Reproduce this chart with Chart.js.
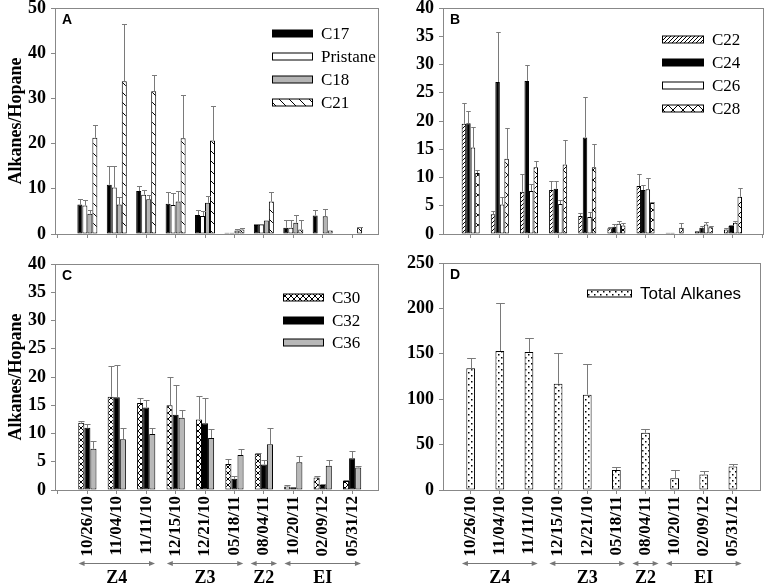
<!DOCTYPE html>
<html>
<head>
<meta charset="utf-8">
<script src="https://cdn.jsdelivr.net/npm/chart.js@4.4.1/dist/chart.umd.min.js"></script>
<style>
  html, body { margin: 0; padding: 0; background: #fff; }
  #wrap { position: relative; width: 767px; height: 585px; }
  canvas { position: absolute; }
</style>
</head>
<body>
<div id="wrap">
  <canvas id="cA" width="383" height="245" style="left:0;top:0"></canvas>
  <canvas id="cB" width="384" height="245" style="left:383px;top:0"></canvas>
  <canvas id="cC" width="383" height="340" style="left:0;top:245px"></canvas>
  <canvas id="cD" width="384" height="340" style="left:383px;top:245px"></canvas>
</div>
<script>
// sampling dates + zones
const dates = ['10/26/10','11/04/10','11/11/10','12/15/10','12/21/10','05/18/11','08/04/11','10/20/11','02/09/12','05/31/12'];
const zones = ['Z4','Z3','Z2','EI'];
const zoneFirst = [0, 3, 6, 7];
const zoneLast = [2, 5, 6, 9];

// A: short chain
const c17 = [6.5, 10.9, 9.5, 6.7, 4.2, 0.3, 2.0, 1.4, 4.1, 0];
const c17Sd = [1.3, 4.2, 1.1, 2.6, 1.0, 0, 0.3, 1.8, 1.2, 0];
const pristane = [6.3, 10.3, 8.7, 6.4, 4.0, 0.3, 2.1, 1.4, 0, 0];
const pristaneSd = [1.3, 4.8, 1.1, 2.6, 1.0, 0, 0.2, 1.8, 0, 0];
const c18 = [4.5, 6.5, 7.7, 7.2, 6.9, 0.8, 3.0, 2.5, 3.9, 0];
const c18Sd = [0.7, 1.6, 0.9, 2.4, 1.6, 0.2, 0, 1.8, 1.7, 0];
const c21 = [21.3, 33.8, 31.6, 21.2, 20.7, 1.0, 7.2, 1.0, 0.8, 1.5];
const c21Sd = [2.9, 12.6, 3.6, 9.6, 7.6, 0.3, 2.2, 2.2, 0, 0.1];

// B: mid chain
const c22 = [19.5, 3.5, 7.5, 7.8, 3.2, 1.0, 8.5, 0.2, 0.5, 0.8];
const c22Sd = [3.6, 0.6, 3.2, 1.6, 0.6, 0.2, 2.1, 0, 0.1, 0.2];
const c24 = [19.6, 26.9, 27.1, 8.0, 17.1, 1.3, 7.8, 0.2, 1.1, 1.4];
const c24Sd = [2.2, 8.8, 2.8, 1.4, 7.1, 0.5, 0.9, 0, 0.3, 0.2];
const c26 = [15.3, 5.2, 7.6, 5.3, 3.0, 1.8, 7.9, 0.1, 1.7, 2.0];
const c26Sd = [3.7, 1.4, 1.3, 0.8, 0.9, 0.5, 2.1, 0, 0.4, 0.3];
const c28 = [10.8, 13.3, 11.8, 12.3, 11.8, 1.5, 5.5, 1.1, 1.2, 6.6];
const c28Sd = [0.5, 5.4, 1.1, 4.4, 4.1, 0.4, 0.1, 0.9, 0.3, 1.5];

// C: long chain
const c30 = [11.9, 16.5, 15.4, 15.0, 12.5, 4.6, 6.4, 0.6, 2.2, 1.6];
const c30Sd = [0.4, 5.5, 0.9, 5.0, 4.2, 0.9, 0.1, 0.2, 0.3, 0.1];
const c32 = [11.0, 16.4, 14.6, 13.3, 11.8, 2.0, 4.5, 0.5, 0.9, 5.6];
const c32Sd = [0.7, 5.8, 1.4, 5.3, 4.4, 0.4, 0.8, 0, 0.1, 1.3];
const c36 = [7.3, 9.0, 9.9, 12.8, 9.2, 6.2, 8.1, 4.9, 4.3, 4.0];
const c36Sd = [1.4, 2.0, 1.1, 1.4, 1.6, 1.1, 2.9, 1.1, 1.0, 0.2];

// D: total
const total = [134, 153, 152, 117, 105, 22, 63, 13, 17, 26];
const totalSd = [11, 53, 15, 34, 34, 3, 4, 9, 4, 3];

const SERIF = "'Liberation Serif', 'Times New Roman', serif";
const SANS = "'Liberation Sans', Arial, sans-serif";

// dates sit at x = 1..10 on a numeric index axis, so the gaps at the frame ends can differ
const toXY = a => a.map((v, i) => ({ x: i + 1, y: v }));

function makePattern(kind) {
  const c = document.createElement('canvas');
  const s = { back: 10, fwd: 4, zig: 10, cross: 6, dots: 6 }[kind];
  c.width = s; c.height = s;
  const g = c.getContext('2d');
  g.fillStyle = '#fff'; g.fillRect(0, 0, s, s);
  g.strokeStyle = '#000'; g.fillStyle = '#000'; g.lineWidth = 1;
  g.beginPath();
  if (kind === 'back') { g.moveTo(0, 0); g.lineTo(s, s); }
  if (kind === 'fwd') { g.moveTo(-1, s + 1); g.lineTo(s + 1, -1); g.moveTo(-1, 1); g.lineTo(1, -1); g.moveTo(s - 1, s + 1); g.lineTo(s + 1, s - 1); }
  if (kind === 'zig' || kind === 'cross') { g.moveTo(0, 0); g.lineTo(s, s); g.moveTo(s, 0); g.lineTo(0, s); }
  g.stroke();
  if (kind === 'dots') { g.fillRect(1, 1, 1.5, 1.5); g.fillRect(4, 4, 1.5, 1.5); }
  return g.createPattern(c, 'repeat');
}
const pat = {
  back: makePattern('back'), fwd: makePattern('fwd'), zig: makePattern('zig'),
  cross: makePattern('cross'), dots: makePattern('dots')
};

const errorBars = {
  id: 'errorBars',
  afterDatasetsDraw(chart) {
    const ctx = chart.ctx, y = chart.scales.y;
    ctx.save();
    ctx.strokeStyle = '#7a7a7a'; ctx.lineWidth = 1;
    chart.data.datasets.forEach((ds, di) => {
      const meta = chart.getDatasetMeta(di);
      meta.data.forEach((bar, i) => {
        const v = ds.data[i].y, e = ds.errs[i];
        if (v == null || !e) return;
        const top = Math.round(y.getPixelForValue(v + e)) + 0.5;
        const x = Math.round(bar.x) + 0.5, hw = bar.width / 2;
        ctx.beginPath();
        ctx.moveTo(x, bar.y); ctx.lineTo(x, top);
        ctx.moveTo(x - hw, top); ctx.lineTo(x + hw, top);
        ctx.stroke();
      });
    });
    ctx.restore();
  }
};

const panelDecor = {
  id: 'panelDecor',
  afterDraw(chart, args, o) {
    const ctx = chart.ctx, a = chart.chartArea;
    ctx.save();
    ctx.strokeStyle = '#888'; ctx.lineWidth = 1;
    ctx.strokeRect(Math.round(a.left) + 0.5, Math.round(a.top) + 0.5, Math.round(a.right - a.left), Math.round(a.bottom - a.top));

    ctx.fillStyle = '#000';
    ctx.font = 'bold 14px ' + SANS;
    ctx.textBaseline = 'alphabetic'; ctx.textAlign = 'left';
    ctx.fillText(o.letter, a.left + 7, a.top + 16);

    if (o.title) {
      ctx.save();
      ctx.translate(16, (a.top + a.bottom) / 2);
      ctx.rotate(-Math.PI / 2);
      ctx.textAlign = 'center'; ctx.textBaseline = 'middle';
      ctx.font = 'bold 18px ' + SERIF;
      ctx.fillText(o.title, 0, 0);
      ctx.restore();
    }

    ctx.textBaseline = 'middle';
    chart.data.datasets.forEach((ds, i) => {
      const yy = Math.round(o.legendY + i * o.legendStep) + 0.5;
      ctx.fillStyle = ds.backgroundColor;
      ctx.fillRect(o.legendX, yy - 3.5, o.swatchW, 7);
      ctx.strokeStyle = '#000';
      ctx.strokeRect(o.legendX + 0.5, yy - 3.5, o.swatchW, 7);
      ctx.fillStyle = '#000';
      ctx.font = o.legendFont;
      ctx.fillText(ds.label, o.legendX + o.swatchW + 9, yy + 1);
    });

    if (o.zones) {
      const x = chart.scales.x;
      const sp = x.getPixelForValue(2) - x.getPixelForValue(1);
      ctx.strokeStyle = '#777'; ctx.fillStyle = '#777';
      zones.forEach((z, k) => {
        const f = zoneFirst[k], l = zoneLast[k];
        const m = f === l ? 0.45 : 0.3;
        const x1 = x.getPixelForValue(f + 1) - m * sp, x2 = x.getPixelForValue(l + 1) + m * sp;
        const yy = 318.5;
        ctx.beginPath(); ctx.moveTo(x1 + 3, yy); ctx.lineTo(x2 - 3, yy); ctx.stroke();
        ctx.beginPath(); ctx.moveTo(x1, yy); ctx.lineTo(x1 + 6, yy - 2.5); ctx.lineTo(x1 + 6, yy + 2.5); ctx.closePath(); ctx.fill();
        ctx.beginPath(); ctx.moveTo(x2, yy); ctx.lineTo(x2 - 6, yy - 2.5); ctx.lineTo(x2 - 6, yy + 2.5); ctx.closePath(); ctx.fill();
        ctx.save();
        ctx.fillStyle = '#000'; ctx.font = 'bold 18px ' + SERIF;
        ctx.textAlign = 'center'; ctx.textBaseline = 'alphabetic';
        ctx.fillText(z, (x1 + x2) / 2, 338);
        ctx.restore();
      });
    }
    ctx.restore();
  }
};

function ds(label, vals, sd, fill) {
  return { label, data: toXY(vals), errs: sd, backgroundColor: fill,
    borderColor: '#000', borderWidth: 1, borderSkipped: false };
}

function makeChart(id, datasets, cfg) {
  return new Chart(document.getElementById(id), {
    type: 'bar',
    data: { datasets },
    plugins: [errorBars, panelDecor],
    options: {
      responsive: false, animation: false,
      datasets: { bar: { categoryPercentage: cfg.catPct, barPercentage: 1 } },
      layout: { padding: { left: 0, right: cfg.padRight, top: cfg.padTop, bottom: 0 } },
      plugins: { legend: { display: false }, tooltip: { enabled: false }, panelDecor: cfg.decor },
      scales: {
        x: {
          type: 'linear', offset: false, min: cfg.xMin, max: cfg.xMax,
          grid: { offset: false, drawOnChartArea: false, tickLength: 4, color: '#888' },
          border: { color: '#888' },
          ticks: cfg.bottom
            ? { display: true, stepSize: 1, includeBounds: false, autoSkip: false, minRotation: 90, maxRotation: 90, padding: 2,
                color: '#000', font: { family: SERIF, size: 17, weight: 'bold' },
                callback: v => (Number.isInteger(v) && v >= 1 && v <= dates.length) ? dates[v - 1] : '' }
            : { display: false, stepSize: 1, includeBounds: false },
          afterFit: s => { s.height = cfg.xHeight; s.paddingLeft = 0; s.paddingRight = 0; }
        },
        y: {
          min: 0, max: cfg.yMax,
          grid: { drawOnChartArea: false, tickLength: 4, color: '#888' },
          border: { color: '#888' },
          ticks: { stepSize: cfg.yStep, padding: 5, color: '#000', font: { family: SERIF, size: 18, weight: 'bold' } },
          // fixed gutter; ignore label overhang so the plot frame lands where we put it
          afterFit: s => { s.width = cfg.yWidth; s.paddingTop = 0; s.paddingBottom = 0; }
        }
      }
    }
  });
}

const serifLegend = '17px ' + SERIF;

makeChart('cA', [
  ds('C17', c17, c17Sd, '#000'),
  ds('Pristane', pristane, pristaneSd, '#fff'),
  ds('C18', c18, c18Sd, '#b4b4b4'),
  ds('C21', c21, c21Sd, pat.back)
], { catPct: 0.68, padRight: 5, padTop: 8, xHeight: 11, yWidth: 55, yMax: 50, yStep: 10, bottom: false,
  xMin: -0.1, xMax: 10.88,
  decor: { letter: 'A', title: 'Alkanes/Hopane', legendX: 272, legendY: 33, legendStep: 23, swatchW: 40, legendFont: serifLegend } });

makeChart('cB', [
  ds('C22', c22, c22Sd, pat.fwd),
  ds('C24', c24, c24Sd, '#000'),
  ds('C26', c26, c26Sd, '#fff'),
  ds('C28', c28, c28Sd, pat.zig)
], { catPct: 0.62, padRight: 4, padTop: 8, xHeight: 11, yWidth: 60, yMax: 40, yStep: 5, bottom: false,
  xMin: 0.05, xMax: 11.03,
  decor: { letter: 'B', legendX: 279, legendY: 39, legendStep: 23, swatchW: 41, legendFont: serifLegend } });

makeChart('cC', [
  ds('C30', c30, c30Sd, pat.cross),
  ds('C32', c32, c32Sd, '#000'),
  ds('C36', c36, c36Sd, '#b8b8b8')
], { catPct: 0.62, padRight: 5, padTop: 19, xHeight: 95, yWidth: 55, yMax: 40, yStep: 5, bottom: true,
  xMin: -0.1, xMax: 10.88,
  decor: { letter: 'C', title: 'Alkanes/Hopane', legendX: 283, legendY: 52, legendStep: 22.5, swatchW: 40, legendFont: serifLegend, zones: true } });

makeChart('cD', [
  ds('Total Alkanes', total, totalSd, pat.dots)
], { catPct: 0.3, padRight: 7, padTop: 18, xHeight: 95, yWidth: 60, yMax: 250, yStep: 50, bottom: true,
  xMin: 0.05, xMax: 10.93,
  decor: { letter: 'D', legendX: 204, legendY: 48, legendStep: 23, swatchW: 44, legendFont: '17px ' + SANS, zones: true } });
</script>
</body>
</html>
